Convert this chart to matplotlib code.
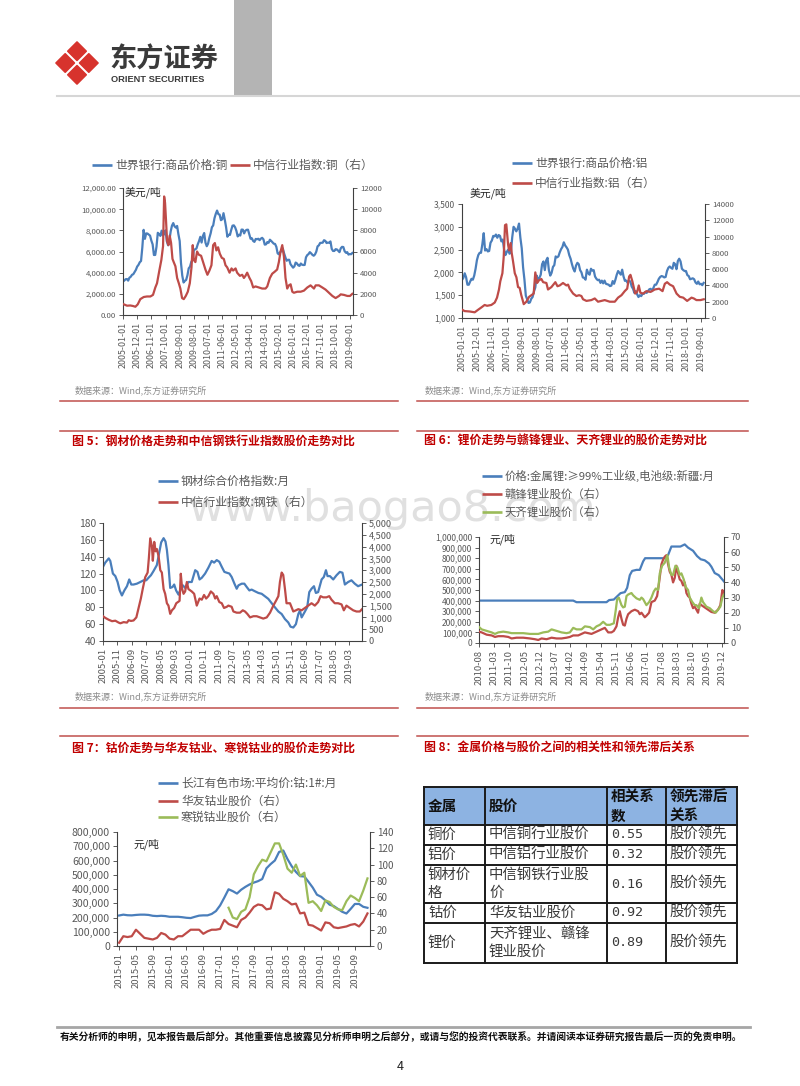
import matplotlib
matplotlib.use('Agg')
import matplotlib.pyplot as plt
from matplotlib.patches import Rectangle, Polygon
from matplotlib.lines import Line2D
from matplotlib.ticker import FuncFormatter

plt.rcParams['font.family'] = ['Noto Sans CJK SC', 'DejaVu Sans']
plt.rcParams['axes.unicode_minus'] = False

# ------------------------------------------------------------------ data
# Chart 1: copper (monthly from 2005-01)
cu_price = [3170, 3254, 3379, 3394, 3249, 3524, 3614, 3797, 3857, 4060, 4265, 4577,
            4734, 4982, 5103, 6387, 8046, 7196, 7711, 7695, 7602, 7500, 7029, 6675,
            5669, 5676, 6452, 7766, 7655, 7475, 7971, 7510, 7652, 8008, 6964, 6588,
            7061, 7888, 8439, 8685, 8383, 8259, 8414, 7632, 6990, 4926, 3717, 3072,
            3221, 3315, 3750, 4407, 4569, 5014, 5216, 6165, 6196, 6288, 6676, 6982,
            7386, 6848, 7463, 7745, 6838, 6499, 6735, 7284, 7709, 8292, 8469, 9147,
            9556, 9868, 9530, 9483, 8960, 9044, 9620, 9001, 8298, 7395, 7582, 7567,
            8041, 8442, 8471, 8289, 7955, 7423, 7585, 7510, 8069, 8063, 7711, 7966,
            8048, 8060, 7646, 7203, 7250, 7000, 6907, 7187, 7160, 7204, 7071, 7215,
            7291, 7149, 6650, 6674, 6891, 6821, 7113, 7002, 6872, 6738, 6713, 6446,
            5831, 5729, 5940, 6042, 6295, 5833, 5457, 5127, 5217, 5216, 4800, 4639,
            4472, 4599, 4954, 4873, 4695, 4642, 4864, 4751, 4722, 4731, 5450, 5660,
            5755, 5941, 5825, 5684, 5600, 5722, 5985, 6484, 6581, 6808, 6826, 6834,
            7066, 7007, 6800, 6843, 6825, 6951, 6248, 6051, 6051, 6219, 6193, 6077,
            5939, 6301, 6439, 6422, 6030, 5883, 5941, 5709, 5759, 5742, 5860]
cu_idx_t = [2005.00, 2005.26, 2005.47, 2005.65, 2005.80, 2005.95, 2006.12, 2006.34, 2006.55, 2006.77,
            2006.94, 2007.09, 2007.20, 2007.35, 2007.48, 2007.59, 2007.66, 2007.72, 2007.78, 2007.85,
            2007.94, 2008.02, 2008.11, 2008.20, 2008.28, 2008.39, 2008.50, 2008.61, 2008.71, 2008.82,
            2008.93, 2009.06, 2009.19, 2009.32, 2009.43, 2009.51, 2009.58, 2009.68, 2009.79, 2009.90,
            2010.05, 2010.18, 2010.33, 2010.46, 2010.59, 2010.72, 2010.83, 2010.94, 2011.04, 2011.15,
            2011.26, 2011.39, 2011.52, 2011.63, 2011.74, 2011.89, 2012.02, 2012.12, 2012.28, 2012.38,
            2012.56, 2012.71, 2012.82, 2012.92, 2013.03, 2013.18, 2013.29, 2013.42, 2013.57, 2013.79,
            2014.00, 2014.22, 2014.33, 2014.50, 2014.65, 2014.82, 2014.97, 2015.08, 2015.19, 2015.30,
            2015.41, 2015.51, 2015.62, 2015.73, 2015.84, 2015.95, 2016.05, 2016.27, 2016.49, 2016.70,
            2016.92, 2017.13, 2017.35, 2017.46, 2017.67, 2017.89, 2018.10, 2018.32, 2018.54, 2018.75,
            2018.97, 2019.08, 2019.29, 2019.51, 2019.68, 2019.83]
cu_idx_v = [1040, 880, 900, 850, 780, 1000, 1500, 1700, 1750, 1750,
            1900, 2600, 3000, 4200, 5200, 6500, 11200, 10600, 9000, 7000,
            6600, 7500, 6800, 5300, 5000, 4600, 3500, 3000, 2500, 1600,
            1500, 1800, 2200, 3000, 4500, 6600, 5200, 5000, 6000, 5700,
            5600, 5000, 4300, 3800, 4200, 4700, 6600, 6800, 6100, 6400,
            5800, 5400, 5300, 4700, 4500, 4000, 4400, 4200, 4400, 4000,
            3700, 3800, 3500, 3700, 4000, 3500, 3200, 2600, 2700, 2600,
            2500, 2500, 2700, 3500, 3900, 4100, 4300, 5000, 6000, 6600,
            5500, 3500, 2500, 2800, 2900, 2200, 2100, 2200, 2200, 2300,
            2600, 2800, 2500, 2800, 2800, 2600, 2400, 2100, 1800, 1600,
            1800, 1950, 1900, 1800, 1800, 2000]
cu_xticks = ['2005-01-01', '2005-12-01', '2006-11-01', '2007-10-01', '2008-09-01', '2009-08-01',
             '2010-07-01', '2011-06-01', '2012-05-01', '2013-04-01', '2014-03-01', '2015-02-01',
             '2016-01-01', '2016-12-01', '2017-11-01', '2018-10-01', '2019-09-01']

# Chart 2: aluminium (monthly from 2005-01)
al_price = [1835, 1880, 1980, 1895, 1730, 1730, 1800, 1860, 1840, 1930, 2080, 2270,
            2380, 2430, 2430, 2620, 2860, 2480, 2510, 2460, 2470, 2650, 2700, 2800,
            2790, 2830, 2760, 2820, 2800, 2680, 2720, 2500, 2380, 2450, 2500, 2410,
            2440, 2770, 3000, 2960, 2900, 2960, 3070, 2760, 2530, 2110, 1840, 1490,
            1410, 1330, 1340, 1420, 1460, 1580, 1670, 1930, 1830, 1880, 1950, 2180,
            2240, 2050, 2260, 2320, 2050, 1930, 1990, 2120, 2160, 2350, 2330, 2350,
            2440, 2510, 2560, 2660, 2590, 2550, 2500, 2380, 2300, 2180, 2080, 2020,
            2150, 2210, 2180, 2050, 2000, 1890, 1880, 1840, 2060, 1980, 1950, 2080,
            2040, 2050, 1910, 1860, 1830, 1840, 1770, 1820, 1760, 1820, 1750, 1740,
            1730, 1700, 1710, 1810, 1750, 1840, 1950, 2030, 1990, 1950, 2060, 1910,
            1815, 1820, 1770, 1820, 1800, 1690, 1640, 1550, 1590, 1520, 1460, 1500,
            1480, 1530, 1530, 1570, 1550, 1590, 1630, 1640, 1590, 1660, 1730, 1730,
            1790, 1860, 1900, 1920, 1910, 1890, 1900, 2030, 2100, 2130, 2100, 2080,
            2210, 2180, 2070, 2250, 2300, 2240, 2080, 2050, 2030, 2030, 1940, 1920,
            1850, 1860, 1870, 1850, 1780, 1750, 1800, 1740, 1750, 1720, 1770]
al_idx_t = [2005.00, 2005.16, 2005.47, 2005.78, 2005.98, 2006.19, 2006.39, 2006.54, 2006.80, 2007.01,
            2007.15, 2007.27, 2007.35, 2007.48, 2007.56, 2007.64, 2007.72, 2007.83, 2007.89, 2007.99,
            2008.05, 2008.13, 2008.24, 2008.34, 2008.44, 2008.54, 2008.64, 2008.79, 2008.95, 2009.12,
            2009.26, 2009.40, 2009.50, 2009.61, 2009.71, 2009.87, 2009.98, 2010.18, 2010.28, 2010.49,
            2010.73, 2010.86, 2011.00, 2011.20, 2011.41, 2011.51, 2011.61, 2011.82, 2012.02, 2012.19,
            2012.33, 2012.43, 2012.64, 2012.94, 2013.15, 2013.35, 2013.56, 2013.76, 2014.07, 2014.38,
            2014.58, 2014.79, 2014.99, 2015.14, 2015.26, 2015.34, 2015.46, 2015.54, 2015.63, 2015.75,
            2015.85, 2015.95, 2016.12, 2016.32, 2016.57, 2016.83, 2017.10, 2017.31, 2017.45, 2017.59,
            2017.76, 2017.96, 2018.17, 2018.37, 2018.58, 2018.82, 2019.09, 2019.23, 2019.39, 2019.64,
            2019.84]
al_idx_v = [1030, 850, 800, 700, 1000, 1300, 1600, 1500, 1600, 1900,
            2500, 3500, 4500, 5500, 7500, 11400, 11500, 9000, 8300, 9200,
            8000, 7000, 5500, 5000, 3800, 3700, 2800, 1700, 2000, 2600,
            2800, 3000, 5600, 4300, 4600, 4800, 4400, 4300, 3500, 3800,
            4400, 3900, 4000, 4300, 4000, 4100, 3600, 3000, 2700, 2800,
            2700, 2300, 2100, 2200, 2400, 2000, 2100, 2200, 2000, 2000,
            2500, 2800, 3300, 3600, 5100, 5300, 4500, 3800, 3000, 3200,
            4000, 3100, 3000, 3300, 3200, 3500, 3600, 3300, 4200, 4400,
            4100, 3900, 3000, 2600, 2500, 2100, 2500, 2400, 2200, 2200,
            2300]

# Chart 5: steel
st_price_t = [2005.00, 2005.13, 2005.33, 2005.42, 2005.57, 2005.71, 2005.84, 2005.96, 2006.09, 2006.23,
              2006.38, 2006.51, 2006.63, 2006.76, 2006.95, 2007.15, 2007.34, 2007.49, 2007.62, 2007.76,
              2007.91, 2008.10, 2008.24, 2008.35, 2008.49, 2008.60, 2008.68, 2008.77, 2008.87, 2009.00,
              2009.10, 2009.21, 2009.35, 2009.48, 2009.60, 2009.73, 2009.92, 2010.11, 2010.31, 2010.44,
              2010.56, 2010.69, 2010.88, 2011.07, 2011.26, 2011.40, 2011.55, 2011.70, 2011.84, 2011.99,
              2012.13, 2012.28, 2012.41, 2012.57, 2012.70, 2012.80, 2012.99, 2013.14, 2013.28, 2013.43,
              2013.56, 2013.75, 2013.95, 2014.14, 2014.33, 2014.52, 2014.67, 2014.90, 2015.10, 2015.29,
              2015.48, 2015.67, 2015.80, 2015.96, 2016.11, 2016.25, 2016.34, 2016.44, 2016.63, 2016.76,
              2016.88, 2017.01, 2017.15, 2017.26, 2017.39, 2017.59, 2017.72, 2017.84, 2017.93, 2018.07,
              2018.26, 2018.45, 2018.64, 2018.79, 2018.93, 2019.12, 2019.31, 2019.50, 2019.69, 2019.92]
st_price_v = [128, 133, 138, 135, 120, 117, 110, 100, 94, 100,
              105, 113, 107, 107, 108, 110, 112, 112, 115, 118,
              123, 130, 145, 157, 162, 158, 148, 130, 103, 104,
              107, 100, 95, 102, 106, 103, 110, 110, 124, 122,
              113, 115, 120, 127, 135, 133, 136, 134, 128, 122,
              121, 120, 116, 108, 102, 106, 108, 108, 104, 100,
              101, 99, 97, 96, 93, 90, 86, 80, 75, 72,
              66, 62, 57, 56, 60, 72, 76, 68, 75, 80,
              98, 102, 105, 97, 98, 113, 116, 124, 117, 117,
              113, 118, 122, 121, 107, 110, 112, 108, 105, 107]
st_idx_t = [2005.00, 2005.13, 2005.33, 2005.52, 2005.71, 2005.90, 2006.00, 2006.19, 2006.38, 2006.48,
            2006.61, 2006.76, 2006.92, 2007.05, 2007.18, 2007.30, 2007.43, 2007.57, 2007.64, 2007.72,
            2007.82, 2007.87, 2007.95, 2008.03, 2008.10, 2008.20, 2008.30, 2008.39, 2008.49, 2008.58,
            2008.68, 2008.77, 2008.87, 2008.97, 2009.10, 2009.22, 2009.41, 2009.48, 2009.56, 2009.64,
            2009.73, 2009.83, 2009.92, 2010.11, 2010.25, 2010.40, 2010.56, 2010.69, 2010.82, 2010.94,
            2011.07, 2011.21, 2011.36, 2011.46, 2011.55, 2011.70, 2011.84, 2011.97, 2012.13, 2012.22,
            2012.41, 2012.51, 2012.70, 2012.89, 2013.05, 2013.18, 2013.31, 2013.47, 2013.66, 2013.85,
            2014.04, 2014.23, 2014.43, 2014.62, 2014.81, 2014.96, 2015.10, 2015.19, 2015.29, 2015.38,
            2015.48, 2015.57, 2015.77, 2015.96, 2016.11, 2016.25, 2016.44, 2016.63, 2016.82, 2017.01,
            2017.20, 2017.39, 2017.53, 2017.68, 2017.87, 2018.03, 2018.16, 2018.35, 2018.54, 2018.74,
            2018.87, 2019.02, 2019.21, 2019.41, 2019.60, 2019.79, 2019.92]
st_idx_v = [1050, 980, 900, 840, 860, 780, 750, 800, 780, 880,
            850, 870, 1000, 1400, 1800, 2250, 2700, 2900, 3500, 4350,
            4000, 3400, 4200, 3800, 3900, 3600, 3000, 2900, 2200, 2000,
            1600, 1500, 1150, 1300, 1400, 1600, 1700, 2850, 2200, 2000,
            2100, 2500, 2200, 2100, 2000, 1500, 1800, 1750, 1950, 1800,
            1900, 2100, 2000, 1800, 1900, 1650, 1600, 1400, 1450, 1500,
            1450, 1250, 1200, 1200, 1300, 1250, 1150, 1000, 1050, 1050,
            1000, 950, 1000, 1200, 1500, 1700, 1900, 2500, 2900, 2800,
            2200, 1600, 1600, 1250, 1300, 1350, 1300, 1400, 1500, 1600,
            1500, 1650, 1900, 1850, 1850, 1900, 1750, 1600, 1600, 1550,
            1300, 1500, 1400, 1300, 1250, 1250, 1350]
st_xticks = ['2005-01', '2005-11', '2006-09', '2007-07', '2008-05', '2009-03', '2010-01', '2010-11',
             '2011-09', '2012-07', '2013-05', '2014-03', '2015-01', '2015-11', '2016-09', '2017-07',
             '2018-05', '2019-03']

# Chart 6: lithium
li_price_t = [2010.583, 2014.195, 2014.322, 2015.471, 2015.573, 2015.752, 2015.879, 2016.007, 2016.173,
              2016.262, 2016.364, 2016.454, 2016.620, 2016.747, 2016.875, 2016.951, 2017.704, 2017.832,
              2017.959, 2018.304, 2018.470, 2018.597, 2018.789, 2018.942, 2019.082, 2019.236, 2019.401,
              2019.491, 2019.618, 2019.772, 2019.874, 2019.976]
li_price_v = [400000, 400000, 385000, 385000, 405000, 410000, 440000, 470000, 480000,
              520000, 640000, 680000, 690000, 690000, 770000, 800000, 800000, 830000,
              910000, 910000, 930000, 900000, 870000, 820000, 790000, 780000, 750000,
              720000, 660000, 640000, 610000, 580000]
gf_t = [2010.583, 2010.685, 2010.877, 2011.068, 2011.196, 2011.323, 2011.515, 2011.706, 2011.834, 2012.025,
        2012.280, 2012.536, 2012.727, 2012.855, 2012.982, 2013.174, 2013.365, 2013.557, 2013.748, 2013.940,
        2014.067, 2014.195, 2014.386, 2014.514, 2014.641, 2014.769, 2014.896, 2015.024, 2015.152, 2015.279,
        2015.407, 2015.535, 2015.662, 2015.752, 2015.853, 2015.917, 2015.981, 2016.045, 2016.109, 2016.173,
        2016.237, 2016.300, 2016.428, 2016.556, 2016.683, 2016.747, 2016.811, 2016.875, 2016.939, 2017.002,
        2017.104, 2017.194, 2017.321, 2017.411, 2017.487, 2017.577, 2017.640, 2017.704, 2017.768, 2017.832,
        2017.896, 2017.959, 2018.023, 2018.087, 2018.151, 2018.215, 2018.278, 2018.342, 2018.406, 2018.470,
        2018.534, 2018.597, 2018.661, 2018.725, 2018.789, 2018.853, 2018.917, 2018.980, 2019.044, 2019.108,
        2019.236, 2019.363, 2019.491, 2019.618, 2019.746, 2019.835, 2019.912, 2019.976]
gf_v = [7.5, 7, 5.5, 5, 4, 4.5, 4.5, 4, 3, 3.5,
        3.5, 3, 2.5, 2, 3, 2.5, 3.5, 3, 3, 3.5,
        4, 5, 5, 6, 7, 6.5, 6, 7, 8, 9,
        10, 7, 7, 8, 11, 17, 21, 16, 12, 11.5,
        16, 19, 21, 22, 21, 19, 20, 18.5, 17, 18,
        20, 27, 28, 31, 40, 52, 55, 57, 58, 52,
        47, 45, 40, 43, 51, 46, 42, 41, 38, 40,
        33, 31, 30, 26, 23, 24, 22, 20, 26, 25,
        23.5, 22, 20.5, 20, 22, 25, 35, 33]
tq_t = [2010.583, 2010.685, 2010.877, 2011.068, 2011.196, 2011.323, 2011.515, 2011.706, 2011.834, 2012.025,
        2012.280, 2012.536, 2012.855, 2013.046, 2013.238, 2013.365, 2013.557, 2013.748, 2013.940, 2014.067,
        2014.195, 2014.322, 2014.514, 2014.641, 2014.833, 2014.961, 2015.088, 2015.216, 2015.343, 2015.471,
        2015.599, 2015.752, 2015.828, 2015.879, 2015.943, 2016.045, 2016.109, 2016.173, 2016.237, 2016.300,
        2016.428, 2016.492, 2016.620, 2016.747, 2016.811, 2016.875, 2017.002, 2017.104, 2017.194, 2017.283,
        2017.360, 2017.449, 2017.513, 2017.602, 2017.704, 2017.806, 2017.870, 2017.959, 2018.023, 2018.113,
        2018.189, 2018.278, 2018.342, 2018.432, 2018.508, 2018.597, 2018.661, 2018.763, 2018.853, 2018.917,
        2019.019, 2019.108, 2019.172, 2019.300, 2019.427, 2019.555, 2019.657, 2019.746, 2019.835, 2019.912,
        2019.976]
tq_v = [10.6, 9, 8, 7, 6, 7, 7.5, 7, 6.5, 6.5,
        6.5, 6, 6, 7, 7.5, 9, 8, 7, 6.5, 7,
        10, 9, 9, 11, 10.5, 9, 11, 12, 14, 12,
        12, 13, 22, 29, 30, 25, 23.5, 24, 31, 32,
        33, 31.5, 29.5, 28.5, 30, 29, 25, 27, 30, 34,
        36, 35, 46, 51, 53, 58, 50, 45, 45, 51,
        50, 45, 46, 42, 37, 35, 30, 27, 25, 25,
        23, 30, 27, 24, 23, 21, 20, 22, 24, 30,
        32]
li_xticks = ['2010-08', '2011-03', '2011-10', '2012-05', '2012-12', '2013-07', '2014-02', '2014-09',
             '2015-04', '2015-11', '2016-06', '2017-01', '2017-08', '2018-03', '2018-10', '2019-05',
             '2019-12']

# Chart 7: cobalt (monthly from 2015-01)
co_price = [214000, 220000, 216000, 215000, 218000, 220000, 220000, 218000, 212000, 210000,
            212000, 210000, 205000, 205000, 205000, 202000, 198000, 196000, 205000, 213000,
            215000, 215000, 225000, 245000, 285000, 340000, 398000, 385000, 368000, 395000,
            415000, 432000, 445000, 455000, 470000, 545000, 575000, 600000, 660000, 670000,
            610000, 560000, 520000, 490000, 488000, 450000, 410000, 360000, 345000, 320000,
            290000, 280000, 260000, 240000, 228000, 260000, 295000, 295000, 275000, 268000]
hy_stock = [4, 12, 11, 12, 20, 15, 10, 9, 8, 10,
            16, 14, 9, 8, 12, 12, 16, 20, 20, 20,
            15, 18, 20, 20, 21, 32, 27, 25, 23, 32,
            35, 41, 48, 51, 50, 45, 46, 66, 64, 58,
            55, 51, 52, 40, 41, 26, 25, 22, 19, 29,
            28, 23, 22, 23, 24, 26, 27, 24, 30, 40]
hr_start = '2017-03'
hr_stock = [47, 35, 33, 42, 45, 60, 88, 98, 106, 104,
            115, 126, 126, 112, 95, 90, 100, 86, 90, 53,
            55, 50, 43, 56, 54, 48, 45, 44, 55, 62,
            59, 55, 68, 83]
co_xticks = ['2015-01', '2015-05', '2015-09', '2016-01', '2016-05', '2016-09', '2017-01', '2017-05',
             '2017-09', '2018-01', '2018-05', '2018-09', '2019-01', '2019-05', '2019-09']

# Table (figure 8)
tbl_header = ['金属', '股价', '相关系\n数', '领先滞后\n关系']
tbl_metal = ['铜价', '铝价', '钢材价\n格', '钴价', '锂价']
tbl_stock = ['中信铜行业股价', '中信铝行业股价', '中信钢铁行业股\n价', '华友钴业股价', '天齐锂业、赣锋\n锂业股价']
tbl_corr = [0.55, 0.32, 0.16, 0.92, 0.89]
tbl_rel = ['股价领先', '股价领先', '股价领先', '股价领先', '股价领先']

# ------------------------------------------------------------------ helpers
BLUE = '#4a7ebb'
RED = '#be4b48'
GREEN = '#9bbb59'
TXT = '#595959'
SPINE = '#404040'
W, H = 800, 1086

fig = plt.figure(figsize=(W / 100, H / 100), dpi=100)
page = fig.add_axes([0, 0, 1, 1], zorder=-5)
page.set_xlim(0, W)
page.set_ylim(H, 0)
page.axis('off')


def mo(label, start):
    y, m = map(int, label.split('-')[:2])
    sy, sm = map(int, start.split('-')[:2])
    return (y - sy) * 12 + (m - sm)


def tx(ts, start):
    sy, sm = map(int, start.split('-')[:2])
    s = sy + (sm - 1) / 12
    return [(t - s) * 12 for t in ts]


def chart_axes(x0, y0, x1, y1):
    ax = fig.add_axes([x0 / W, 1 - y1 / H, (x1 - x0) / W, (y1 - y0) / H])
    ax.patch.set_alpha(0)
    ax2 = ax.twinx()
    ax2.patch.set_alpha(0)
    for a in (ax, ax2):
        a.spines['top'].set_visible(False)
        for s in a.spines.values():
            s.set_color(SPINE)
            s.set_linewidth(0.8)
    ax.spines['right'].set_visible(False)
    ax2.spines['left'].set_visible(False)
    ax2.spines['bottom'].set_visible(False)
    return ax, ax2


def style_ticks(ax, ax2, lfs, rfs, xfs, lfmt, rfmt, xticks, xlabels):
    ax.tick_params(axis='y', direction='out', length=3, width=0.6, color=SPINE,
                   labelcolor=TXT, labelsize=lfs, pad=2)
    ax2.tick_params(axis='y', direction='out', length=3, width=0.6, color=SPINE,
                    labelcolor=TXT, labelsize=rfs, pad=2)
    ax.yaxis.set_major_formatter(FuncFormatter(lfmt))
    ax2.yaxis.set_major_formatter(FuncFormatter(rfmt))
    ax.set_xticks(xticks)
    ax.set_xticklabels(xlabels, rotation=90, fontsize=xfs, color=TXT)
    ax.tick_params(axis='x', direction='out', length=3, width=0.6, color=SPINE, pad=2)


def legend_entry(x, y, color, text, fs=8.5):
    page.add_line(Line2D([x, x + 20], [y, y], color=color, lw=1.9, solid_capstyle='butt'))
    page.text(x + 23, y, text, fontsize=fs, color=TXT, va='center', ha='left')


# ------------------------------------------------------------------ header
RED_LOGO = '#d7332d'
cx, cy, d, r = 77, 63, 11.8, 9.2
for ox, oy in [(0, -d), (-d, 0), (d, 0), (0, d)]:
    px, py = cx + ox, cy + oy
    page.add_patch(Polygon([(px, py - r), (px + r, py), (px, py + r), (px - r, py)], closed=True,
                           facecolor=RED_LOGO, edgecolor=RED_LOGO, lw=1.2, joinstyle='round'))
page.text(109, 60, '东方证券', fontsize=19.6, fontweight='bold', color='#3a3a3a', va='center', ha='left')
page.text(111, 79, 'ORIENT SECURITIES', fontsize=6.7, fontweight='bold', color='#3a3a3a',
          va='center', ha='left', family='Liberation Sans')
page.add_patch(Rectangle((234, 0), 38, 95, facecolor='#b4b4b4', edgecolor='none'))
page.add_line(Line2D([57, 800], [95.5, 95.5], color='#d6d6d6', lw=1.5))

# watermark
page.text(188, 521, 'www.baogao8.com', fontsize=31, color='#e0e0e0', family='DejaVu Sans',
          va='baseline', ha='left', zorder=0.5)

# section rules, titles, sources
RULE = '#c0504d'
for y in (400.5, 708):
    page.add_line(Line2D([60, 398], [y, y], color=RULE, lw=1.1))
    page.add_line(Line2D([417, 748], [y, y], color=RULE, lw=1.1))
for y in (431, 736):
    page.add_line(Line2D([60, 398], [y, y], color=RULE, lw=1.1))
    page.add_line(Line2D([417, 748], [y, y], color=RULE, lw=1.1))
TITLE = '#c00000'
page.text(72, 441, '图 5：钢材价格走势和中信钢铁行业指数股价走势对比', fontsize=8.6, fontweight='bold',
          color=TITLE, va='center')
page.text(424, 441, '图 6：锂价走势与赣锋锂业、天齐锂业的股价走势对比', fontsize=8.6, fontweight='bold',
          color=TITLE, va='center')
page.text(72, 748, '图 7：钴价走势与华友钴业、寒锐钴业的股价走势对比', fontsize=8.6, fontweight='bold',
          color=TITLE, va='center')
page.text(424, 748, '图 8：金属价格与股价之间的相关性和领先滞后关系', fontsize=8.6, fontweight='bold',
          color=TITLE, va='center')
for x, y in [(75, 390), (425, 390), (75, 696), (425, 696)]:
    page.text(x, y, '数据来源：Wind,东方证券研究所', fontsize=6.5, color='#8c8c8c', va='center')

# ------------------------------------------------------------------ chart 1: copper
ax, ax2 = chart_axes(123, 188, 353, 315)
ax.plot(range(len(cu_price)), cu_price, color=BLUE, lw=1.6)
ax2.plot(tx(cu_idx_t, '2005-01'), cu_idx_v, color=RED, lw=1.6)
ax.set_ylim(0, 12000)
ax2.set_ylim(0, 12000)
ax.set_yticks(range(0, 12001, 2000))
ax2.set_yticks(range(0, 12001, 2000))
ax.set_xlim(0, 178.5)
style_ticks(ax, ax2, 5.6, 5.6, 6.4, lambda v, p: f'{v:,.2f}', lambda v, p: f'{int(v)}',
            [mo(l, '2005-01') for l in cu_xticks], cu_xticks)
page.text(125, 192, '美元/吨', fontsize=7.8, color='#262626', va='center')
legend_entry(92, 165, BLUE, '世界银行:商品价格:铜')
legend_entry(230, 165, RED, '中信行业指数:铜（右）')

# ------------------------------------------------------------------ chart 2: aluminium
ax, ax2 = chart_axes(462, 204, 705, 318)
ax.plot(range(len(al_price)), al_price, color=BLUE, lw=1.6)
ax2.plot(tx(al_idx_t, '2005-01'), al_idx_v, color=RED, lw=1.6)
ax.set_ylim(1000, 3500)
ax2.set_ylim(0, 14000)
ax.set_yticks(range(1000, 3501, 500))
ax2.set_yticks(range(0, 14001, 2000))
ax.set_xlim(0, 179)
style_ticks(ax, ax2, 6.1, 5.6, 6.4, lambda v, p: f'{int(v):,}', lambda v, p: f'{int(v)}',
            [mo(l, '2005-01') for l in cu_xticks], cu_xticks)
page.text(470, 193, '美元/吨', fontsize=7.8, color='#262626', va='center')
legend_entry(512, 163, BLUE, '世界银行:商品价格:铝')
legend_entry(512, 183, RED, '中信行业指数:铝（右）')

# ------------------------------------------------------------------ chart 5: steel
ax, ax2 = chart_axes(103, 523, 362, 641)
ax.plot(tx(st_price_t, '2005-01'), st_price_v, color=BLUE, lw=1.6)
ax2.plot(tx(st_idx_t, '2005-01'), st_idx_v, color=RED, lw=1.6)
ax.set_ylim(40, 180)
ax2.set_ylim(0, 5000)
ax.set_yticks(range(40, 181, 20))
ax2.set_yticks(range(0, 5001, 500))
ax.set_xlim(0, 179)
style_ticks(ax, ax2, 7.4, 6.6, 6.8, lambda v, p: f'{int(v)}', lambda v, p: f'{int(v):,}',
            [mo(l, '2005-01') for l in st_xticks], st_xticks)
legend_entry(158, 481, BLUE, '钢材综合价格指数:月')
legend_entry(158, 502, RED, '中信行业指数:钢铁（右）')

# ------------------------------------------------------------------ chart 6: lithium
ax, ax2 = chart_axes(479, 537, 724, 643)
ax.plot(tx(li_price_t, '2010-08'), li_price_v, color=BLUE, lw=1.6)
ax2.plot(tx(gf_t, '2010-08'), gf_v, color=RED, lw=1.6)
ax2.plot(tx(tq_t, '2010-08'), tq_v, color=GREEN, lw=1.6)
ax.set_ylim(0, 1000000)
ax2.set_ylim(0, 70)
ax.set_yticks(range(0, 1000001, 100000))
ax2.set_yticks(range(0, 71, 10))
ax.set_xlim(0, 112.7)
style_ticks(ax, ax2, 6.1, 6.6, 6.8, lambda v, p: f'{int(v):,}', lambda v, p: f'{int(v)}',
            [mo(l, '2010-08') for l in li_xticks], li_xticks)
page.text(490, 539, '元/吨', fontsize=7.8, color='#262626', va='center')
legend_entry(482, 476, BLUE, '价格:金属锂:≥99%工业级,电池级:新疆:月', fs=8.2)
legend_entry(482, 494, RED, '赣锋锂业股价（右）', fs=8.2)
legend_entry(482, 512, GREEN, '天齐锂业股价（右）', fs=8.2)

# ------------------------------------------------------------------ chart 7: cobalt
ax, ax2 = chart_axes(117, 832, 370, 946)
ax.plot(range(len(co_price)), co_price, color=BLUE, lw=1.6)
ax2.plot(range(len(hy_stock)), hy_stock, color=RED, lw=1.6)
hr0 = mo(hr_start, '2015-01')
ax2.plot(range(hr0, hr0 + len(hr_stock)), hr_stock, color=GREEN, lw=1.6)
ax.set_ylim(0, 800000)
ax2.set_ylim(0, 140)
ax.set_yticks(range(0, 800001, 100000))
ax2.set_yticks(range(0, 141, 20))
ax.set_xlim(-0.5, 59.6)
style_ticks(ax, ax2, 7.6, 7.0, 6.8, lambda v, p: f'{int(v):,}', lambda v, p: f'{int(v)}',
            [mo(l, '2015-01') for l in co_xticks], co_xticks)
page.text(133, 844, '元/吨', fontsize=7.8, color='#262626', va='center')
legend_entry(158, 783, BLUE, '长江有色市场:平均价:钴:1#:月')
legend_entry(158, 801, RED, '华友钴业股价（右）')
legend_entry(158, 817, GREEN, '寒锐钴业股价（右）')

# ------------------------------------------------------------------ table (figure 8)
cols = [424, 485, 607, 666, 737]
rows = [787, 825, 845, 865, 903, 923, 963]
page.add_patch(Rectangle((cols[0], rows[0]), cols[-1] - cols[0], rows[1] - rows[0],
                         facecolor='#8db3e2', edgecolor='none'))
for x in cols:
    page.add_line(Line2D([x, x], [rows[0], rows[-1]], color='#1a1a1a', lw=1.4))
for y in rows:
    page.add_line(Line2D([cols[0], cols[-1]], [y, y], color='#1a1a1a', lw=1.4))
pad = 4
for j, t in enumerate(tbl_header):
    page.text(cols[j] + pad, (rows[0] + rows[1]) / 2, t, fontsize=10.5, fontweight='bold',
              color='#111111', va='center', ha='left', linespacing=1.25)
for i in range(len(tbl_metal)):
    yc = (rows[i + 1] + rows[i + 2]) / 2
    page.text(cols[0] + pad, yc, tbl_metal[i], fontsize=10.4, color='#3a3a3a', va='center',
              ha='left', linespacing=1.3)
    page.text(cols[1] + pad, yc, tbl_stock[i], fontsize=10.4, color='#3a3a3a', va='center',
              ha='left', linespacing=1.3)
    page.text(cols[2] + pad, yc, f'{tbl_corr[i]:.2f}', fontsize=9.6, color='#3a3a3a', va='center',
              ha='left', family='DejaVu Sans Mono')
    page.text(cols[3] + pad, yc, tbl_rel[i], fontsize=10.4, color='#3a3a3a', va='center', ha='left')

# ------------------------------------------------------------------ footer
page.add_line(Line2D([57, 750], [1027, 1027], color='#a6a6a6', lw=2))
page.text(60, 1037, '有关分析师的申明，见本报告最后部分。其他重要信息披露见分析师申明之后部分，'
          '或请与您的投资代表联系。并请阅读本证券研究报告最后一页的免责申明。',
          fontsize=7.05, fontweight='bold', color='#111111', va='center', ha='left')
page.text(400, 1066, '4', fontsize=9, color='#222222', va='center', ha='center')

fig.savefig('out.png', dpi=100)
